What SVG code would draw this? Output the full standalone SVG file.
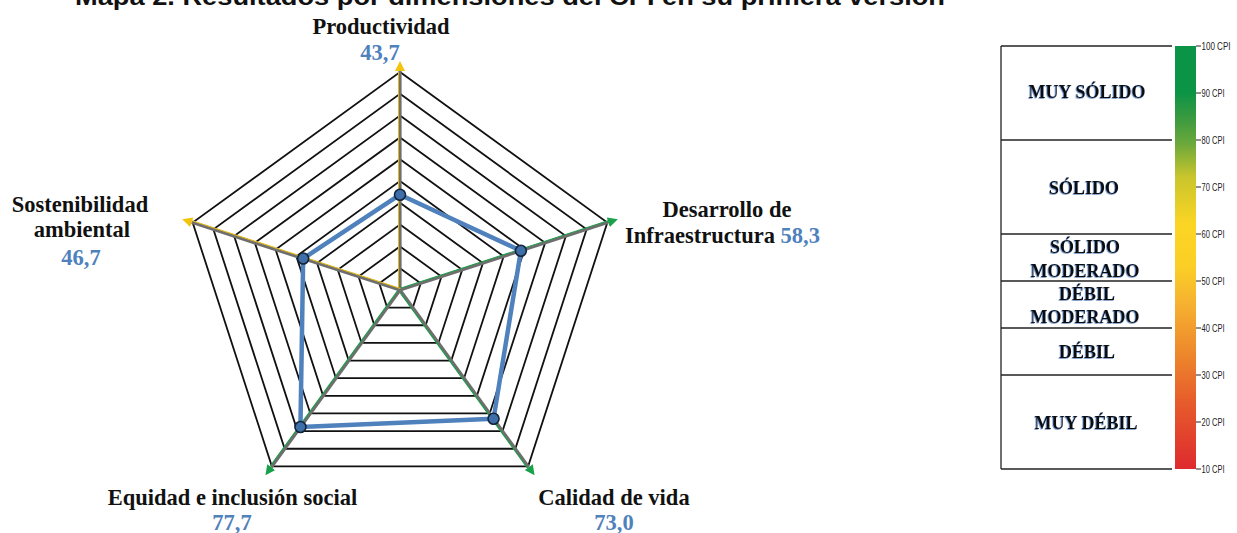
<svg xmlns="http://www.w3.org/2000/svg" width="1237" height="533" viewBox="0 0 1237 533">
  <style>
    .lbl { font-family: "Liberation Serif", "Times New Roman", serif; font-weight: bold; font-size: 22.5px; fill: #111; }
    .val { font-family: "Liberation Serif", "Times New Roman", serif; font-weight: bold; font-size: 22.5px; fill: #4f81bd; }
    .grid { fill: none; stroke: #111; stroke-width: 1.8; stroke-linejoin: miter; }
    .axis { stroke: #6e6e6e; stroke-width: 3.2; }
    .ay { stroke: #e0b81c; stroke-width: 1.1; }
    .ag { stroke: #1e9e4a; stroke-width: 1.1; }
    .series { fill: none; stroke: #4f81bd; stroke-width: 4.5; stroke-linejoin: round; }
    .dot { fill: #3f6fa8; stroke: #13243a; stroke-width: 1.6; }
    .leg { font-family: "Liberation Serif", "Times New Roman", serif; font-weight: bold; font-size: 18px; fill: #111; text-anchor: middle; }
    .legline { stroke: #222; stroke-width: 1.3; }
    .tick { stroke: #222; stroke-width: 1; }
    .tlab { font-family: "Liberation Sans", Arial, sans-serif; font-size: 11px; fill: #222; }
    .title { font-family: "Liberation Sans", Arial, sans-serif; font-weight: bold; font-size: 24px; fill: #111; }
  </style>
  <defs>
    <marker id="arrY" markerWidth="10" markerHeight="10" refX="0" refY="5" orient="auto" markerUnits="userSpaceOnUse">
      <path d="M0,0 L10,5 L0,10 z" fill="#f2c40f"/>
    </marker>
    <marker id="arrG" markerWidth="10" markerHeight="10" refX="0" refY="5" orient="auto" markerUnits="userSpaceOnUse">
      <path d="M0,0 L10,5 L0,10 z" fill="#17a24a"/>
    </marker>
    <linearGradient id="cpi" x1="0" y1="0" x2="0" y2="1">
      <stop offset="0" stop-color="#0a9447"/>
      <stop offset="0.11" stop-color="#0c9446"/>
      <stop offset="0.17" stop-color="#3a9a40"/>
      <stop offset="0.23" stop-color="#6aa83c"/>
      <stop offset="0.31" stop-color="#c9c52c"/>
      <stop offset="0.42" stop-color="#fbd524"/>
      <stop offset="0.52" stop-color="#fbcf26"/>
      <stop offset="0.61" stop-color="#f6b130"/>
      <stop offset="0.72" stop-color="#ee8a2c"/>
      <stop offset="0.83" stop-color="#e7602b"/>
      <stop offset="1" stop-color="#de2a2e"/>
    </linearGradient>
    <filter id="glow" x="-5%" y="-20%" width="110%" height="140%">
      <feDropShadow dx="-0.7" dy="0.7" stdDeviation="0.4" flood-color="#2b5fa8" flood-opacity="0.8"/>
    </filter>
  </defs>

  <rect x="0" y="0" width="1237" height="533" fill="#ffffff"/>

  <text id="title" class="title" x="75" y="5" textLength="870" lengthAdjust="spacingAndGlyphs">Mapa 2. Resultados por dimensiones del CPI en su primera versión</text>

  <g id="radar-grid">
    <polygon class="grid" points="400,268.2 420.73,283.26 412.81,307.64 387.19,307.64 379.27,283.26"/>
    <polygon class="grid" points="400,246.4 441.47,276.53 425.63,325.27 374.37,325.27 358.53,276.53"/>
    <polygon class="grid" points="400,224.6 462.2,269.79 438.44,342.91 361.56,342.91 337.8,269.79"/>
    <polygon class="grid" points="400,202.8 482.93,263.05 451.26,360.55 348.74,360.55 317.07,263.05"/>
    <polygon class="grid" points="400,181 503.67,256.32 464.07,378.18 335.93,378.18 296.33,256.32"/>
    <polygon class="grid" points="400,159.2 524.4,249.58 476.88,395.82 323.12,395.82 275.6,249.58"/>
    <polygon class="grid" points="400,137.4 545.13,242.84 489.7,413.46 310.3,413.46 254.87,242.84"/>
    <polygon class="grid" points="400,115.6 565.86,236.11 502.51,431.09 297.49,431.09 234.14,236.11"/>
    <polygon class="grid" points="400,93.8 586.6,229.37 515.32,448.73 284.68,448.73 213.4,229.37"/>
    <polygon class="grid" points="400,72 607.33,222.63 528.14,466.37 271.86,466.37 192.67,222.63"/>
  </g>

  <g id="connectors">
    <line class="axis" x1="400" y1="290" x2="400" y2="71" marker-end="url(#arrY)"/>
    <line class="ay" x1="398.5" y1="290" x2="398.5" y2="72"/>
    <line class="axis" x1="400" y1="290" x2="608.3" y2="222.3" marker-end="url(#arrG)"/>
    <line class="ag" x1="399.6" y1="288.5" x2="607.9" y2="220.8"/>
    <line class="axis" x1="400" y1="290" x2="528.7" y2="467.2" marker-end="url(#arrG)"/>
    <line class="ag" x1="398.8" y1="290.9" x2="527.5" y2="468.1"/>
    <line class="axis" x1="400" y1="290" x2="271.3" y2="467.2" marker-end="url(#arrG)"/>
    <line class="ag" x1="398.8" y1="289.1" x2="270.1" y2="466.3"/>
    <line class="axis" x1="400" y1="290" x2="191.7" y2="222.3" marker-end="url(#arrY)"/>
    <line class="ay" x1="400.4" y1="288.5" x2="192.1" y2="220.8"/>
  </g>

  <g id="series">
    <polygon class="series" points="400,194.73 520.87,250.73 493.54,418.75 300.44,427.04 303.17,258.54"/>
    <circle class="dot" cx="400" cy="194.73" r="5.5"/>
    <circle class="dot" cx="520.87" cy="250.73" r="5.5"/>
    <circle class="dot" cx="493.54" cy="418.75" r="5.5"/>
    <circle class="dot" cx="300.44" cy="427.04" r="5.5"/>
    <circle class="dot" cx="303.17" cy="258.54" r="5.5"/>
  </g>

  <g id="node-productividad">
    <text class="lbl" x="381" y="34" text-anchor="middle">Productividad</text>
    <text class="val" x="380" y="60" text-anchor="middle">43,7</text>
  </g>
  <g id="node-desarrollo">
    <text class="lbl" x="727" y="217" text-anchor="middle">Desarrollo de</text>
    <text class="lbl" x="625" y="243">Infraestructura <tspan class="val">58,3</tspan></text>
  </g>
  <g id="node-calidad">
    <text class="lbl" x="614" y="505" text-anchor="middle">Calidad de vida</text>
    <text class="val" x="614" y="530" text-anchor="middle">73,0</text>
  </g>
  <g id="node-equidad">
    <text class="lbl" x="232.5" y="505" text-anchor="middle">Equidad e inclusión social</text>
    <text class="val" x="232" y="530" text-anchor="middle">77,7</text>
  </g>
  <g id="node-sostenibilidad">
    <text class="lbl" x="80" y="212" text-anchor="middle">Sostenibilidad</text>
    <text class="lbl" x="82" y="237" text-anchor="middle">ambiental</text>
    <text class="val" x="81" y="265" text-anchor="middle">46,7</text>
  </g>

  <g id="legend">
    <line class="legline" x1="1001" y1="46" x2="1001" y2="469"/>
    <line class="legline" x1="1001" y1="46" x2="1172" y2="46"/>
    <line class="legline" x1="1001" y1="140" x2="1172" y2="140"/>
    <line class="legline" x1="1001" y1="234" x2="1172" y2="234"/>
    <line class="legline" x1="1001" y1="281" x2="1172" y2="281"/>
    <line class="legline" x1="1001" y1="328" x2="1172" y2="328"/>
    <line class="legline" x1="1001" y1="375" x2="1172" y2="375"/>
    <line class="legline" x1="1001" y1="469" x2="1172" y2="469"/>
    <g filter="url(#glow)">
      <text class="leg" x="1087" y="98">MUY SÓLIDO</text>
      <text class="leg" x="1084" y="194">SÓLIDO</text>
      <text class="leg" x="1085" y="253">SÓLIDO</text>
      <text class="leg" x="1085" y="277">MODERADO</text>
      <text class="leg" x="1087" y="300">DÉBIL</text>
      <text class="leg" x="1085" y="323">MODERADO</text>
      <text class="leg" x="1087" y="358">DÉBIL</text>
      <text class="leg" x="1086" y="429">MUY DÉBIL</text>
    </g>
    <rect x="1175" y="46" width="21" height="423" fill="url(#cpi)"/>
    <g id="ticks">
      <line class="tick" x1="1196" y1="46" x2="1201" y2="46"/>
      <line class="tick" x1="1196" y1="93" x2="1201" y2="93"/>
      <line class="tick" x1="1196" y1="140" x2="1201" y2="140"/>
      <line class="tick" x1="1196" y1="187" x2="1201" y2="187"/>
      <line class="tick" x1="1196" y1="234" x2="1201" y2="234"/>
      <line class="tick" x1="1196" y1="281" x2="1201" y2="281"/>
      <line class="tick" x1="1196" y1="328" x2="1201" y2="328"/>
      <line class="tick" x1="1196" y1="375" x2="1201" y2="375"/>
      <line class="tick" x1="1196" y1="422" x2="1201" y2="422"/>
      <line class="tick" x1="1196" y1="469" x2="1201" y2="469"/>
      <text class="tlab" x="1201.5" y="50" textLength="29" lengthAdjust="spacingAndGlyphs">100 CPI</text>
      <text class="tlab" x="1201.5" y="97" textLength="23" lengthAdjust="spacingAndGlyphs">90 CPI</text>
      <text class="tlab" x="1201.5" y="144" textLength="23" lengthAdjust="spacingAndGlyphs">80 CPI</text>
      <text class="tlab" x="1201.5" y="191" textLength="23" lengthAdjust="spacingAndGlyphs">70 CPI</text>
      <text class="tlab" x="1201.5" y="238" textLength="23" lengthAdjust="spacingAndGlyphs">60 CPI</text>
      <text class="tlab" x="1201.5" y="285" textLength="23" lengthAdjust="spacingAndGlyphs">50 CPI</text>
      <text class="tlab" x="1201.5" y="332" textLength="23" lengthAdjust="spacingAndGlyphs">40 CPI</text>
      <text class="tlab" x="1201.5" y="379" textLength="23" lengthAdjust="spacingAndGlyphs">30 CPI</text>
      <text class="tlab" x="1201.5" y="426" textLength="23" lengthAdjust="spacingAndGlyphs">20 CPI</text>
      <text class="tlab" x="1201.5" y="473" textLength="23" lengthAdjust="spacingAndGlyphs">10 CPI</text>
    </g>
  </g>
</svg>
